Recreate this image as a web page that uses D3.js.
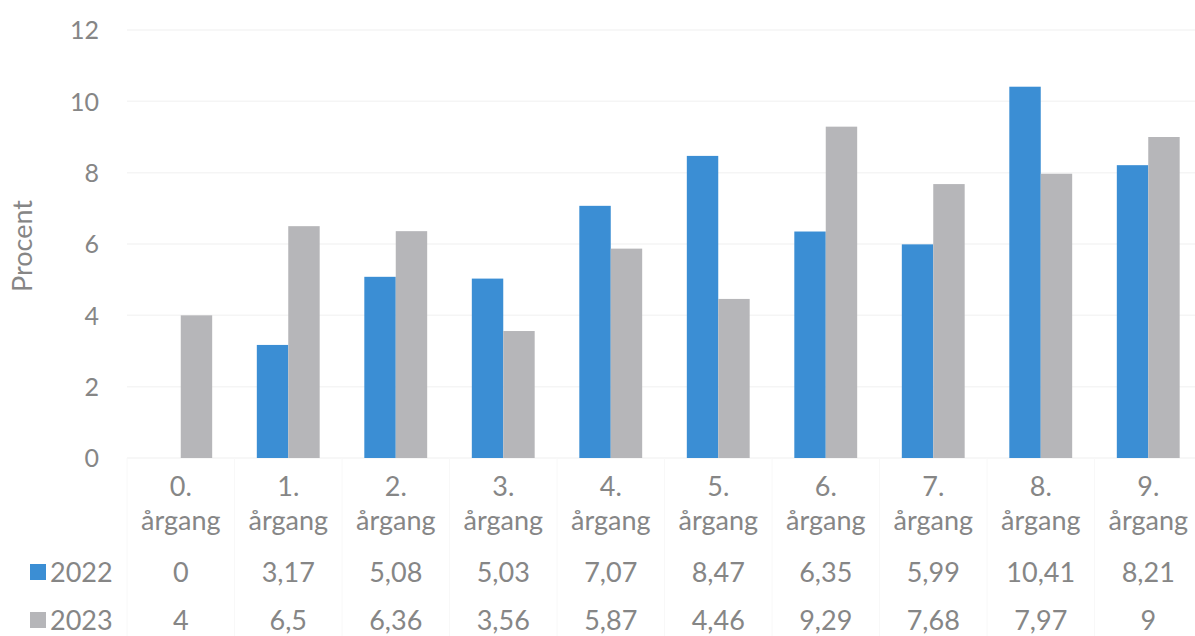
<!DOCTYPE html>
<html>
<head>
<meta charset="utf-8">
<script src="https://cdn.jsdelivr.net/npm/d3@7"></script>
<style>
  body { margin: 0; background: #fff; }
  text { font-family: Lato, "Open Sans", sans-serif; fill: #868686; }
</style>
</head>
<body>
<div id="chart"></div>
<script>
// data
var categories = ['0.', '1.', '2.', '3.', '4.', '5.', '6.', '7.', '8.', '9.'];
var seriesNames = ['2022', '2023'];
var values2022 = [0, 3.17, 5.08, 5.03, 7.07, 8.47, 6.35, 5.99, 10.41, 8.21];
var values2023 = [4, 6.5, 6.36, 3.56, 5.87, 4.46, 9.29, 7.68, 7.97, 9];
var yTicks = [0, 2, 4, 6, 8, 10, 12];

var W = 1195, H = 636;
var colors = {'2022': '#3b8ed4', '2023': '#b6b6b9'};
var series = {'2022': values2022, '2023': values2023};

var x = d3.scaleBand().domain(categories).range([127, 1202]);
var inner = d3.scaleBand().domain(seriesNames).range([0, x.bandwidth()]).paddingInner(0).paddingOuter(0.71);
var y = d3.scaleLinear().domain([0, 12]).range([458, 30]);

var svg = d3.select('#chart').append('svg')
  .attr('width', W)
  .attr('height', H);

// faint gridlines
svg.append('g').selectAll('line')
  .data(yTicks).enter()
  .append('line')
  .attr('x1', 127).attr('x2', W)
  .attr('y1', function(d) { return y(d); })
  .attr('y2', function(d) { return y(d); })
  .attr('stroke', '#f5f5f5')
  .attr('stroke-width', 1.5);

// table borders (barely visible in the scan)
svg.append('g').selectAll('line')
  .data(categories).enter()
  .append('line')
  .attr('x1', function(d) { return x(d); })
  .attr('x2', function(d) { return x(d); })
  .attr('y1', 458).attr('y2', H)
  .attr('stroke', '#f8f8f8');

var yAxis = d3.axisLeft(y).tickValues(yTicks).tickSize(0).tickPadding(0);
var gy = svg.append('g').attr('transform', 'translate(99,0)').call(yAxis);
gy.select('.domain').remove();
gy.selectAll('text')
  .style('font-family', 'Lato, "Open Sans", sans-serif')
  .style('font-size', '25px')
  .attr('fill', function(d) { return d >= 10 ? '#555' : '#868686'; })
  .attr('dy', '0.35em');

svg.append('text')
  .attr('transform', 'translate(32,246) rotate(-90)')
  .attr('text-anchor', 'middle')
  .style('font-size', '27px')
  .text('Procent');

// bars
seriesNames.forEach(function(s) {
  svg.append('g').selectAll('rect')
    .data(categories).enter()
    .append('rect')
    .attr('x', function(d) { return x(d) + inner(s); })
    .attr('width', inner.bandwidth())
    .attr('y', function(d, i) { return y(series[s][i]); })
    .attr('height', function(d, i) { return y(0) - y(series[s][i]); })
    .attr('fill', colors[s]);
});

// category labels
var cat = svg.append('g').selectAll('text')
  .data(categories).enter()
  .append('text')
  .attr('text-anchor', 'middle')
  .style('font-size', '27px')
  .attr('x', function(d) { return x(d) + x.bandwidth() / 2; });
cat.append('tspan')
  .attr('x', function(d) { return x(d) + x.bandwidth() / 2; })
  .attr('y', 496)
  .text(function(d) { return d; });
cat.append('tspan')
  .attr('x', function(d) { return x(d) + x.bandwidth() / 2; })
  .attr('y', 530)
  .text('årgang');

// data table rows
var rowY = {'2022': 582, '2023': 630};
seriesNames.forEach(function(s) {
  svg.append('rect')
    .attr('x', 30).attr('y', rowY[s] - 18)
    .attr('width', 16).attr('height', 16)
    .attr('fill', colors[s]);
  svg.append('text')
    .attr('x', 50).attr('y', rowY[s])
    .style('font-size', '27px')
    .text(s);
  svg.append('g').selectAll('text')
    .data(series[s]).enter()
    .append('text')
    .attr('text-anchor', 'middle')
    .style('font-size', '27px')
    .attr('x', function(d, i) { return x(categories[i]) + x.bandwidth() / 2; })
    .attr('y', rowY[s])
    .text(function(d) { return String(d).replace('.', ','); });
});
</script>
</body>
</html>
